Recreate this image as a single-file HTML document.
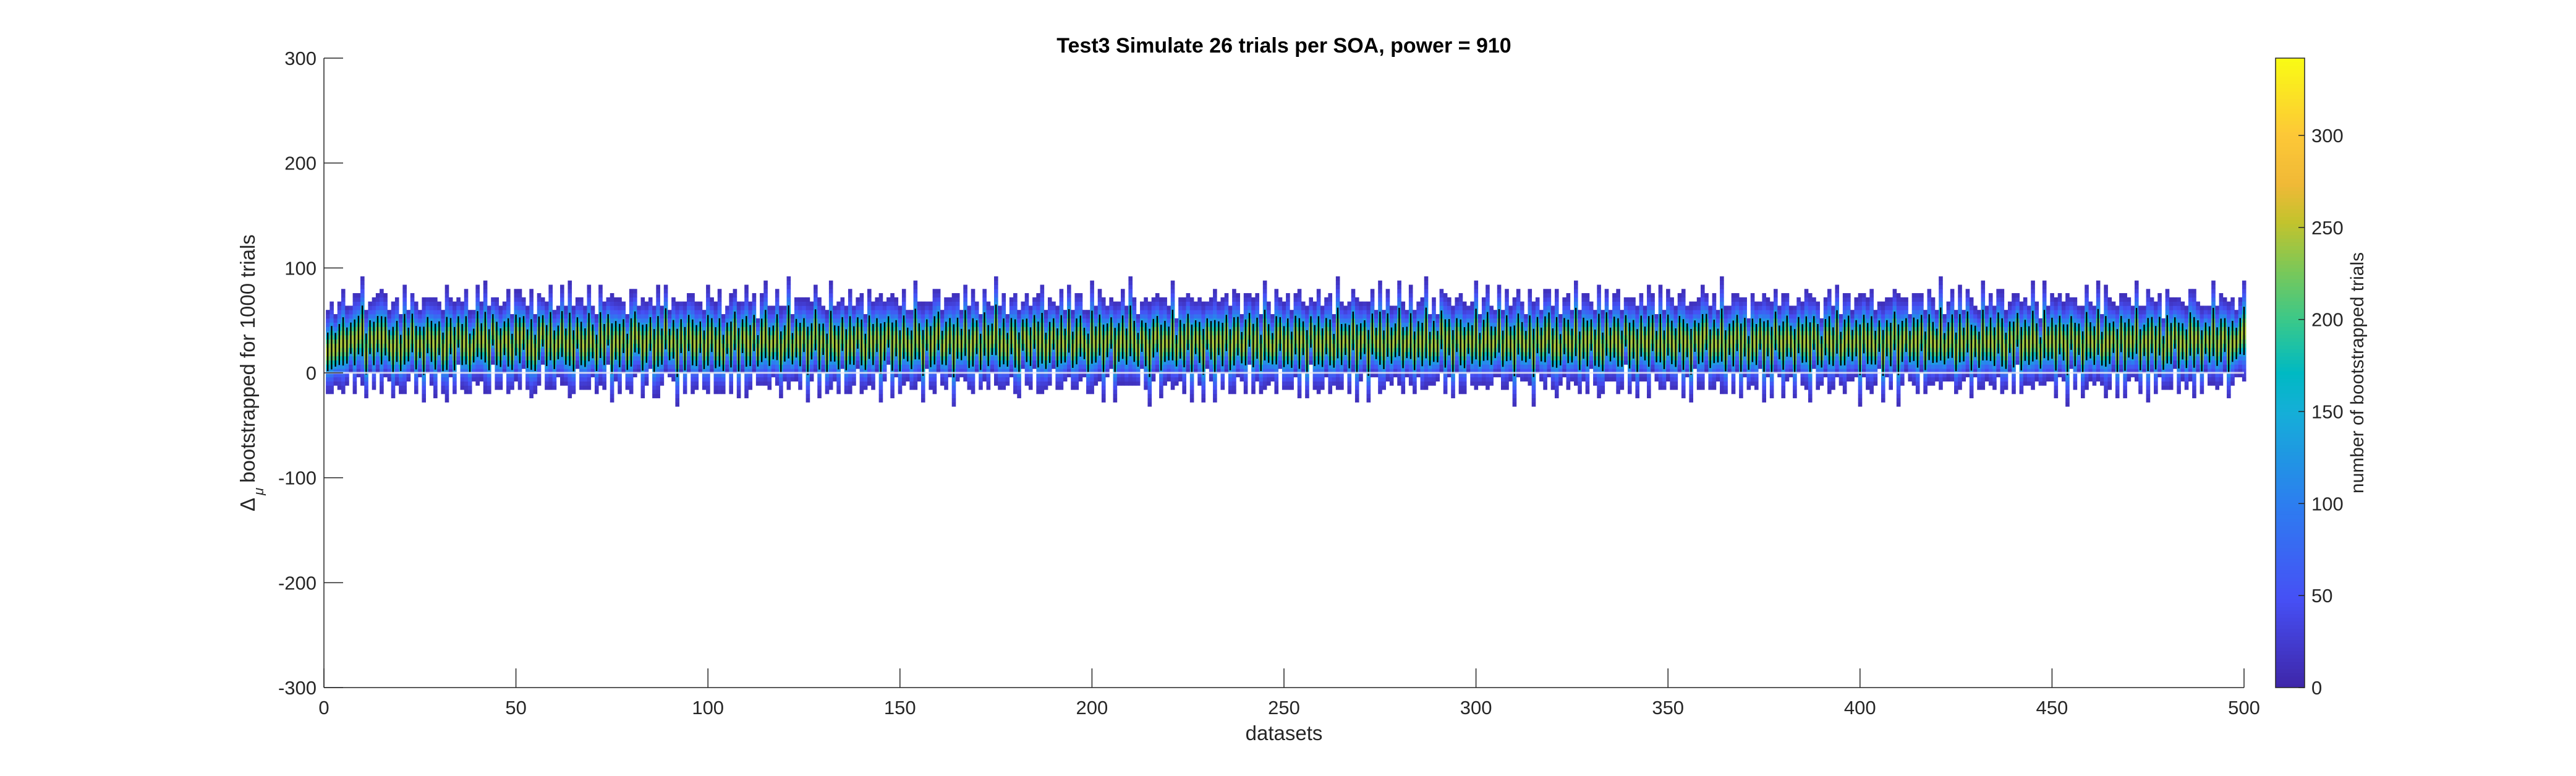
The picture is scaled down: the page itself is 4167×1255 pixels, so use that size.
<!DOCTYPE html>
<html><head><meta charset="utf-8">
<style>
html,body{margin:0;padding:0;background:#fff;}
svg text{font-family:"Liberation Sans",sans-serif;fill:#262626;}
</style></head>
<body>
<svg id="chart" width="4167" height="1250" viewBox="0 0 4167 1250" xmlns="http://www.w3.org/2000/svg">
<rect width="4167" height="1250" fill="#fff"/>
<g id="marks"></g>
<g id="axes"></g>
<g id="cbar"></g>
<text x="2077" y="85" text-anchor="middle" font-size="34" font-weight="bold" style="fill:#000">Test3 Simulate 26 trials per SOA, power = 910</text>
<text x="2077" y="1197" text-anchor="middle" font-size="33">datasets</text>
<text transform="translate(412,603) rotate(-90)" text-anchor="middle" font-size="33">Δ<tspan font-size="22" font-style="italic" dy="14" dx="4">μ</tspan><tspan dy="-14" dx="8">bootstrapped for 1000 trials</tspan></text>
<text transform="translate(3823,603) rotate(-90)" text-anchor="middle" font-size="30">number of bootstrapped trials</text>
</svg>
<script>
const xTicks=[0,50,100,150,200,250,300,350,400,450,500];
const yTicks=[-300,-200,-100,0,100,200,300];
const cTicks=[0,50,100,150,200,250,300];
const means=[
20,24,22,27,30,26,33,29,36,40,18,34,28,37,31,35,26,22,30,19,32,27,38,24,29,21,36,30,25,33,20,28,35,23,39,27,31,19,26,37,30,34,22,41,28,24,33,29,20,36,
31,38,23,27,19,33,40,26,35,22,29,37,25,32,21,38,28,24,34,30,19,36,27,41,23,31,26,35,20,29,39,33,24,28,37,21,30,25,42,27,32,19,35,23,38,29,26,34,22,31,
36,24,29,19,33,27,40,22,35,30,26,38,21,31,37,25,29,34,20,28,39,23,33,27,36,21,30,41,25,32,19,35,28,24,37,22,31,26,38,29,20,34,27,36,23,30,39,25,33,21,
34,27,22,37,30,19,36,25,31,40,24,28,35,21,33,27,38,23,29,34,20,37,26,32,41,24,30,22,35,28,19,36,31,25,39,27,33,21,29,37,24,32,26,40,22,30,35,28,19,34,
27,36,23,31,38,21,29,34,25,40,30,22,35,27,19,33,37,24,30,28,36,21,32,26,39,23,34,29,20,37,31,25,33,27,38,22,30,35,24,29,41,26,33,19,36,28,23,31,37,25,
30,22,36,28,33,20,39,26,31,24,35,29,21,38,27,32,25,40,23,30,34,19,37,28,33,22,36,26,31,39,24,29,35,21,32,27,38,23,30,25,41,28,34,20,36,29,24,33,27,37,
22,31,35,26,29,40,23,33,28,21,37,30,25,34,19,36,27,32,38,24,29,22,35,30,26,39,21,33,28,36,24,31,20,37,27,34,29,23,40,26,32,21,35,28,30,38,25,33,22,36,
29,24,37,27,31,20,35,28,33,39,23,30,26,36,21,32,28,38,24,34,19,31,27,37,25,33,22,40,29,26,35,30,21,36,28,32,24,38,27,20,34,31,25,39,23,29,35,26,33,22,
37,28,31,24,35,19,33,27,40,22,30,36,25,32,28,38,21,34,29,26,37,23,31,35,20,33,27,39,24,30,22,36,28,32,25,38,29,21,34,27,41,23,31,26,35,30,19,37,28,33,
24,36,29,22,38,27,32,20,35,31,26,39,23,30,28,34,21,37,25,33,29,40,22,31,27,36,24,35,19,32,28,38,26,30,23,37,29,34,21,33,27,39,25,31,36,22,30,28,35,40];
const sds=[
16,18,14,17,20,15,13,19,16,21,17,14,18,15,20,16,13,19,17,15,21,14,16,18,13,20,15,17,19,14,16,22,15,18,13,17,20,16,14,19,15,21,17,13,18,16,14,20,15,17,
19,14,16,21,15,18,13,17,20,16,14,19,15,22,17,13,18,16,20,14,15,19,17,13,21,16,18,14,15,20,17,13,19,16,14,18,21,15,17,13,16,20,14,18,15,19,17,13,16,21,
14,17,20,15,13,19,16,18,14,21,17,15,13,18,20,16,14,19,17,15,22,13,16,18,14,20,15,17,19,13,16,21,15,18,14,17,20,16,13,19,15,18,17,14,21,16,13,20,15,17,
18,14,16,21,15,19,13,17,20,16,14,18,15,22,17,13,19,16,20,14,15,18,17,13,21,16,19,14,15,20,17,13,18,16,14,19,21,15,17,13,16,20,14,18,15,19,17,13,16,22,
15,17,20,14,13,19,16,18,15,21,17,14,13,18,20,16,15,19,17,14,21,13,16,18,15,20,14,17,19,13,16,22,14,18,15,17,20,16,13,19,14,18,17,15,21,16,13,20,14,17,
19,15,16,21,14,18,13,17,20,16,15,19,14,21,17,13,18,16,20,15,14,19,17,13,22,16,18,15,14,20,17,13,19,16,15,18,21,14,17,13,16,20,15,18,14,19,17,13,16,21,
14,17,20,16,13,18,15,19,14,21,17,16,13,18,20,15,14,19,17,16,21,13,15,18,14,20,16,17,19,13,15,22,16,18,14,17,20,15,13,19,16,18,17,14,21,15,13,20,16,17,
18,16,15,21,14,19,13,17,20,15,16,18,14,22,17,13,19,15,20,16,14,18,17,13,21,15,19,16,14,20,17,13,18,15,16,19,21,14,17,13,15,20,16,18,14,19,17,13,15,21,
16,17,20,14,13,19,15,18,16,21,17,14,13,18,20,15,16,19,17,14,22,13,15,18,16,20,14,17,19,13,15,21,14,18,16,17,20,15,13,19,14,18,17,16,21,15,13,20,14,17,
19,16,15,21,14,18,13,17,20,15,16,19,14,21,17,13,18,15,20,16,14,19,17,13,22,15,18,16,14,20,17,13,19,15,16,18,21,14,17,13,15,20,16,18,14,19,17,13,15,20];
const binWidth=4, peakCount=245, cMax=342, minCount=11;

const L=524,R=3630,T=94,B=1112;
function xs(v){return L+(v/500)*(R-L);}
function ys(v){return T+(300-v)/600*(B-T);}
const CB={x0:3681,x1:3728};
function cs(v){return B-(v/cMax)*(B-T);}
const stops=[[0,[62,38,168]],[0.14,[70,80,245]],[0.29,[45,125,240]],[0.44,[20,175,215]],[0.5,[0,185,195]],[0.58,[55,200,140]],[0.66,[120,200,90]],[0.74,[195,195,45]],[0.8,[240,185,55]],[0.88,[253,200,55]],[1,[249,251,20]]];
function parula(t){t=Math.max(0,Math.min(1,t));for(let i=1;i<stops.length;i++){if(t<=stops[i][0]){const a=stops[i-1],b=stops[i];const f=(t-a[0])/(b[0]-a[0]);const c=a[1].map((x,k)=>Math.round(x+(b[1][k]-x)*f));return `rgb(${c[0]},${c[1]},${c[2]})`;}}return 'rgb(249,251,20)';}
const NS='http://www.w3.org/2000/svg';
function mk(tag,attrs,parent){const e=document.createElementNS(NS,tag);for(const k in attrs)e.setAttribute(k,attrs[k]);parent.appendChild(e);return e;}
const marks=document.getElementById('marks');
for(let i=0;i<means.length;i++){
  const d=i+1,m=means[i],s=sds[i];
  const g=mk('g',{},marks);
  
  
  const x0=xs(d-0.5),x1=xs(d+0.5);
  const lo=Math.floor((m-3.2*s)/binWidth)*binWidth;
  for(let b=lo;b<m+3.2*s;b+=binWidth){
    const c=peakCount*Math.exp(-Math.pow(b+binWidth/2-m,2)/(2*s*s));
    if(c<minCount)continue;
    const r=mk('rect',{x:x0,y:ys(b+binWidth),width:x1-x0+0.4,height:ys(b)-ys(b+binWidth)+0.4,fill:parula(c/cMax)},g);
    
    
  }
  const bar=mk('rect',{x:xs(d)-1.2,y:ys(m+1.15*s),width:2.4,height:ys(m-1.15*s)-ys(m+1.15*s),fill:'#000'},g);
  
  
}
const zl=mk('line',{x1:L,x2:R,y1:ys(0),y2:ys(0),stroke:'rgba(235,235,245,0.85)','stroke-width':3},marks);



const ax=document.getElementById('axes');
const xl=mk('line',{x1:L,x2:R,y1:B,y2:B,stroke:'#262626','stroke-width':1.5},ax);


const yl=mk('line',{x1:L,x2:L,y1:T,y2:B,stroke:'#262626','stroke-width':1.5},ax);


xTicks.forEach(v=>{
  const t=mk('line',{x1:xs(v),x2:xs(v),y1:B,y2:B-31,stroke:'#262626','stroke-width':1.5},ax);
  
  
  const tx=mk('text',{x:xs(v),y:1155,'text-anchor':'middle','font-size':31},ax);
  tx.textContent=v;
  
  
});
yTicks.forEach(v=>{
  const t=mk('line',{x1:L,x2:L+31,y1:ys(v),y2:ys(v),stroke:'#262626','stroke-width':1.5},ax);
  
  
  const tx=mk('text',{x:L-12,y:ys(v)+11,'text-anchor':'end','font-size':31},ax);
  tx.textContent=v;
  
  
});
const cb=document.getElementById('cbar');
for(let v=0;v<cMax;v+=2){
  const r=mk('rect',{x:CB.x0,y:cs(v+2),width:CB.x1-CB.x0,height:cs(v)-cs(v+2)+0.5,fill:parula((v+1)/cMax)},cb);
  
  
}
const cbo=mk('rect',{x:CB.x0,y:T,width:CB.x1-CB.x0,height:B-T,fill:'none',stroke:'#262626','stroke-width':1.5},cb);


cTicks.forEach(v=>{
  const t=mk('line',{x1:CB.x1-10,x2:CB.x1,y1:cs(v),y2:cs(v),stroke:'#262626','stroke-width':1.5},cb);
  
  
  const tx=mk('text',{x:3739,y:cs(v)+11,'font-size':31},cb);
  tx.textContent=v;
  
  
});
</script>
</body></html>
